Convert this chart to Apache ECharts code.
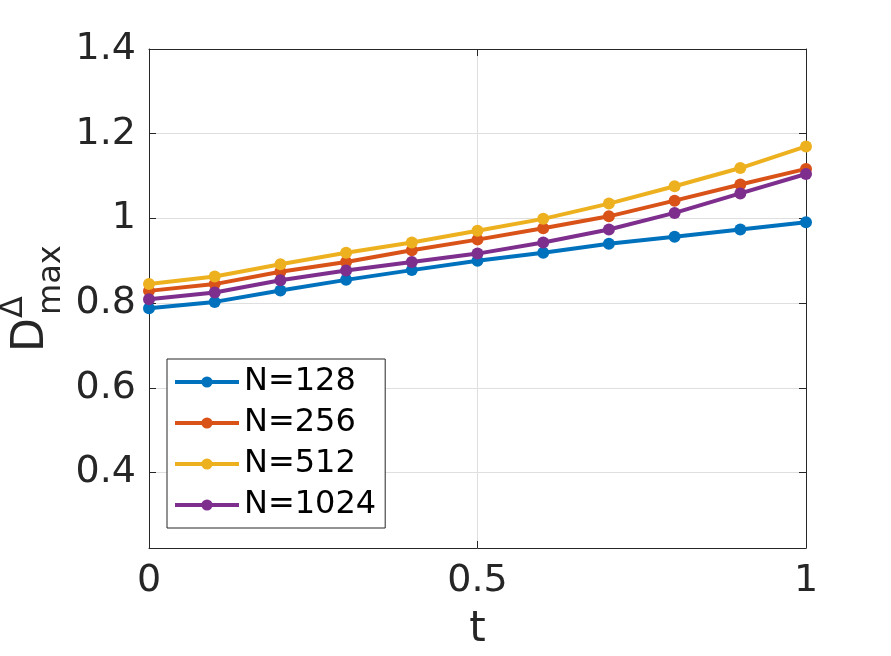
<!DOCTYPE html>
<html>
<head>
<meta charset="utf-8">
<script src="https://cdn.jsdelivr.net/npm/echarts@6/dist/echarts.min.js"></script>
<style>
html,body{margin:0;padding:0;background:#fff;}
#c{width:891px;height:656px;}
</style>
</head>
<body>
<div id="c"></div>
<script>
const tVals = [0, 0.1, 0.2, 0.3, 0.4, 0.5, 0.6, 0.7, 0.8, 0.9, 1.0];
const seriesNames = ['N=128', 'N=256', 'N=512', 'N=1024'];
const n128  = [0.788, 0.803, 0.830, 0.855, 0.878, 0.900, 0.919, 0.940, 0.957, 0.974, 0.991];
const n256  = [0.829, 0.845, 0.874, 0.897, 0.925, 0.950, 0.977, 1.005, 1.042, 1.080, 1.117];
const n512  = [0.845, 0.863, 0.892, 0.919, 0.943, 0.971, 0.999, 1.035, 1.076, 1.119, 1.170];
const n1024 = [0.809, 0.825, 0.854, 0.877, 0.897, 0.917, 0.943, 0.974, 1.013, 1.059, 1.105];
const xTicks = [0, 0.5, 1];
const yTicks = [0.4, 0.6, 0.8, 1.0, 1.2, 1.4];
const colors = ['#0072BD', '#D95319', '#EDB120', '#7E2F8E'];
const allSeries = [n128, n256, n512, n1024];

const axisColor = '#262626';
const gridColor = '#dfdfdf';
const FONT = 'DejaVu Sans';

const chart = echarts.init(document.getElementById('c'), null, {renderer: 'canvas'});

function isTick(v, ticks) {
  return ticks.some(t => Math.abs(t - v) < 1e-6);
}

const option = {
  animation: false,
  backgroundColor: '#fff',
  grid: {left: 149, right: 85, top: 49, bottom: 108, containLabel: false},
  legend: {
    orient: 'vertical',
    left: 167, top: 359,
    data: seriesNames,
    backgroundColor: '#fff',
    borderColor: axisColor,
    borderWidth: 1,
    borderRadius: 0,
    padding: [7, 9, 7, 6],
    itemWidth: 64,
    itemHeight: 14,
    itemGap: 9,
    lineStyle: {width: 4},
    textStyle: {fontFamily: FONT, fontSize: 32, color: '#000', lineHeight: 32, padding: [0,0,0,0]}
  },
  xAxis: [{
    type: 'value', min: 0, max: 1, interval: 0.5, position: 'bottom',
    axisLine: {show: true, onZero: false, lineStyle: {color: axisColor, width: 1}},
    axisTick: {show: true, inside: true, length: 7, lineStyle: {color: axisColor}},
    axisLabel: {
      show: true, margin: 14, color: axisColor, fontFamily: FONT, fontSize: 38,
      formatter: v => isTick(v, xTicks) ? String(v) : ''
    },
    splitLine: {show: true, lineStyle: {color: gridColor, width: 1}},
    name: 't', nameLocation: 'middle', nameGap: 61,
    nameTextStyle: {fontFamily: FONT, fontSize: 42, color: axisColor}
  }, {
    type: 'value', min: 0, max: 1, interval: 0.5, position: 'top',
    axisLine: {show: true, onZero: false, lineStyle: {color: axisColor, width: 1}},
    axisTick: {show: true, inside: true, length: 7, lineStyle: {color: axisColor}},
    axisLabel: {show: false},
    splitLine: {show: false}
  }],
  yAxis: [{
    type: 'value', min: 0.222, max: 1.4, splitNumber: 5, minInterval: 0.2, maxInterval: 0.2,
    position: 'left',
    axisLine: {show: true, onZero: false, lineStyle: {color: axisColor, width: 1}},
    axisTick: {show: true, inside: true, length: 7, lineStyle: {color: axisColor}},
    axisLabel: {
      show: true, margin: 13, color: axisColor, fontFamily: FONT, fontSize: 38,
      showMinLabel: false,
      formatter: v => isTick(v, yTicks) ? String(Math.round(v * 10) / 10) : ''
    },
    splitLine: {show: true, lineStyle: {color: gridColor, width: 1}}
  }, {
    type: 'value', min: 0.222, max: 1.4, splitNumber: 5, minInterval: 0.2, maxInterval: 0.2,
    position: 'right',
    axisLine: {show: true, onZero: false, lineStyle: {color: axisColor, width: 1}},
    axisTick: {show: true, inside: true, length: 7, lineStyle: {color: axisColor}},
    axisLabel: {show: false},
    splitLine: {show: false}
  }],
  graphic: [
    {type: 'text', x: 32, y: 352, rotation: Math.PI / 2, z: 100,
     style: {text: 'D', font: '44px "DejaVu Sans"', fill: axisColor, textAlign: 'left', textVerticalAlign: 'middle'}},
    {type: 'text', x: 14, y: 318, rotation: Math.PI / 2, z: 100,
     style: {text: 'Δ', font: '32px "DejaVu Sans"', fill: axisColor, textAlign: 'left', textVerticalAlign: 'middle'}},
    {type: 'text', x: 52, y: 315, rotation: Math.PI / 2, z: 100,
     style: {text: 'max', font: '32px "DejaVu Sans"', fill: axisColor, textAlign: 'left', textVerticalAlign: 'middle'}}
  ],
  series: allSeries.map((arr, i) => ({
    name: seriesNames[i],
    type: 'line',
    xAxisIndex: 0, yAxisIndex: 0,
    data: tVals.map((t, j) => [t, arr[j]]),
    symbol: 'circle',
    symbolSize: 12,
    showSymbol: true,
    lineStyle: {color: colors[i], width: 4},
    itemStyle: {color: colors[i]},
    z: 2 + i
  }))
};
chart.setOption(option);
</script>
</body>
</html>
